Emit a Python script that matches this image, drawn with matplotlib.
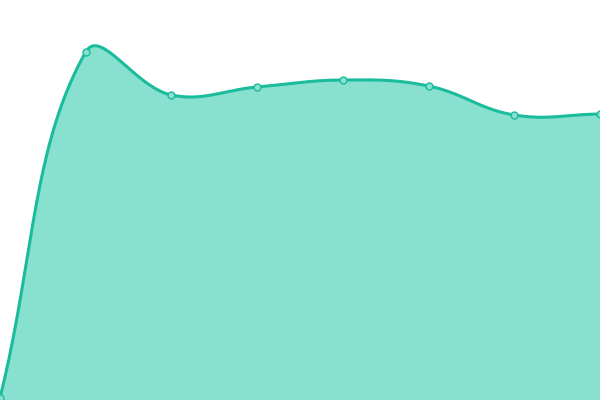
import numpy as np
import matplotlib
matplotlib.use('Agg')
import matplotlib.pyplot as plt

x_vals = [0, 1, 2, 3, 4, 5, 6, 7]
y_vals = [2, 348, 305, 313, 320, 314, 285, 286]

LINE = '#1abc9c'
FILL = '#88e0cf'
TENSION = 0.4


def spline(ax, xs, ys, tension=TENSION, n=40):
    """Bezier curve through the points, control points chosen by
    distance-weighted tension (as canvas chart libraries do)."""
    pts = ax.transData.transform(np.column_stack([xs, ys]))
    npts = len(pts)
    c_prev = np.zeros_like(pts)
    c_next = np.zeros_like(pts)
    for i in range(npts):
        prev = pts[i - 1] if i > 0 else pts[i]
        nxt = pts[i + 1] if i < npts - 1 else pts[i]
        d01 = np.hypot(*(pts[i] - prev))
        d12 = np.hypot(*(nxt - pts[i]))
        tot = d01 + d12
        s01 = d01 / tot if tot else 0
        s12 = d12 / tot if tot else 0
        c_prev[i] = pts[i] - tension * s01 * (nxt - prev)
        c_next[i] = pts[i] + tension * s12 * (nxt - prev)
    t = np.linspace(0, 1, n)[:, None]
    segs = []
    for i in range(npts - 1):
        p0, p1, p2, p3 = pts[i], c_next[i], c_prev[i + 1], pts[i + 1]
        segs.append((1 - t)**3 * p0 + 3 * (1 - t)**2 * t * p1
                    + 3 * (1 - t) * t**2 * p2 + t**3 * p3)
    curve = np.vstack(segs)
    data = ax.transData.inverted().transform(curve)
    return data[:, 0], data[:, 1]


fig = plt.figure(figsize=(6, 4), dpi=100)
ax = fig.add_axes([0, 0, 1, 1])
ax.set_xlim(0, 7)
ax.set_ylim(0, 400)
ax.axis('off')

sx, sy = spline(ax, x_vals, y_vals)
ax.fill_between(sx, sy, 0, color=FILL, linewidth=0)
ax.plot(sx, sy, color=LINE, linewidth=2.2, solid_capstyle='round')
ax.plot(x_vals, y_vals, 'o', markersize=5, markerfacecolor=FILL,
        markeredgecolor=LINE, markeredgewidth=1)

fig.savefig('out.png', dpi=100)
